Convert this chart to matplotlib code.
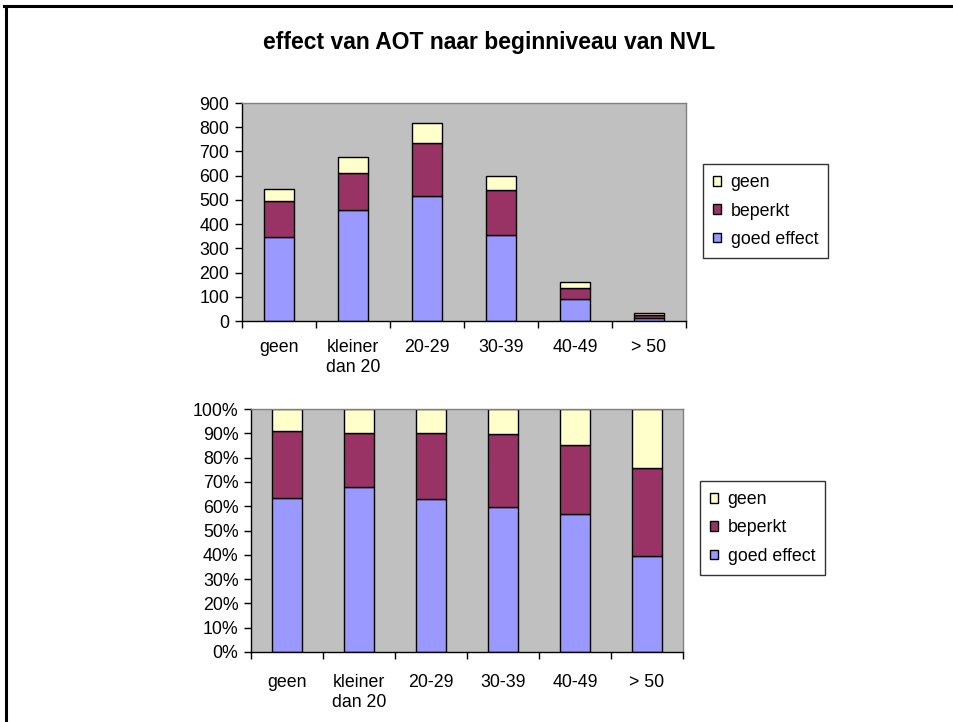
import matplotlib
matplotlib.use("Agg")
import matplotlib.pyplot as plt
import numpy as np
from matplotlib.lines import Line2D
from matplotlib.patches import Patch
from matplotlib.ticker import FuncFormatter, MultipleLocator

plt.rcParams['font.family'] = ['Liberation Sans', 'DejaVu Sans']

# beginniveau van NVL
categories = ["geen", "kleiner\ndan 20", "20-29", "30-39", "40-49", "> 50"]
goed_effect = [345, 460, 514, 357, 91, 13]
beperkt = [151, 150, 220, 182, 45, 12]
geen = [50, 68, 82, 61, 24, 8]

series = [("goed effect", goed_effect, "#9999FF"),
          ("beperkt", beperkt, "#993366"),
          ("geen", geen, "#FFFFCC")]

totals = np.array(goed_effect) + np.array(beperkt) + np.array(geen)

FS = 12.8

fig = plt.figure(figsize=(9.54, 7.22), dpi=100)

# outer frame (top and left only)
fig.add_artist(Line2D([0.004, 1.0], [1 - 6 / 722, 1 - 6 / 722], color="black", lw=2.2))
fig.add_artist(Line2D([6 / 954, 6 / 954], [0, 1 - 6 / 722], color="black", lw=2.2))

fig.text(489 / 954, 1 - 43 / 722, "effect van AOT naar beginniveau van NVL",
         ha="center", va="center", fontsize=16.5, fontweight="bold")


def draw_stack(ax, values_of, ymax, step, fmt, xpad):
    x = np.arange(len(categories))
    bottom = np.zeros(len(categories))
    for name, vals, color in series:
        v = values_of(np.array(vals, dtype=float))
        ax.bar(x, v, width=0.41, bottom=bottom, color=color,
               edgecolor="black", linewidth=1, zorder=2)
        bottom += v
    ax.set_facecolor("#C0C0C0")
    ax.set_xlim(-0.5, len(categories) - 0.5)
    ax.set_ylim(0, ymax)
    ax.yaxis.set_major_locator(MultipleLocator(step))
    ax.yaxis.set_major_formatter(FuncFormatter(fmt))
    ax.set_xticks(x)
    ax.set_xticklabels(categories, fontsize=FS, va="top", linespacing=1.25)
    ax.set_xticks(np.arange(-0.5, len(categories)), minor=True)
    ax.tick_params(axis="x", which="major", length=0, pad=xpad)
    ax.tick_params(axis="x", which="minor", length=5, width=1, direction="out")
    ax.tick_params(axis="y", length=5, width=1, direction="out", labelsize=FS, pad=4)
    for s in ("left", "bottom"):
        ax.spines[s].set_color("black")
        ax.spines[s].set_linewidth(1)
    for s in ("top", "right"):
        ax.spines[s].set_color("#808080")
        ax.spines[s].set_linewidth(1)

    return [Patch(facecolor=c, edgecolor="black", linewidth=1, label=n)
            for n, _, c in reversed(series)]


def add_legend(handles, x, yc):
    leg = fig.legend(handles=handles, loc="center left", bbox_to_anchor=(x, yc),
                     frameon=True, fancybox=False, edgecolor="black", fontsize=FS,
                     handlelength=0.45, handleheight=0.45, handletextpad=0.55,
                     labelspacing=0.64, borderpad=0.55, borderaxespad=0)
    leg.get_frame().set_linewidth(1)


ax1 = fig.add_axes([242 / 954, 1 - 321 / 722, 444 / 954, 218 / 722])
h = draw_stack(ax1, lambda v: v, 900, 100, lambda y, p: f"{y:.0f}", 13)
add_legend(h, 703 / 954, 1 - 211 / 722)

ax2 = fig.add_axes([251 / 954, 1 - 652 / 722, 432 / 954, 243 / 722])
h = draw_stack(ax2, lambda v: v / totals * 100, 100, 10, lambda y, p: f"{y:.0f}%", 16)
add_legend(h, 700 / 954, 1 - 528 / 722)

fig.savefig("out.png", dpi=100)
